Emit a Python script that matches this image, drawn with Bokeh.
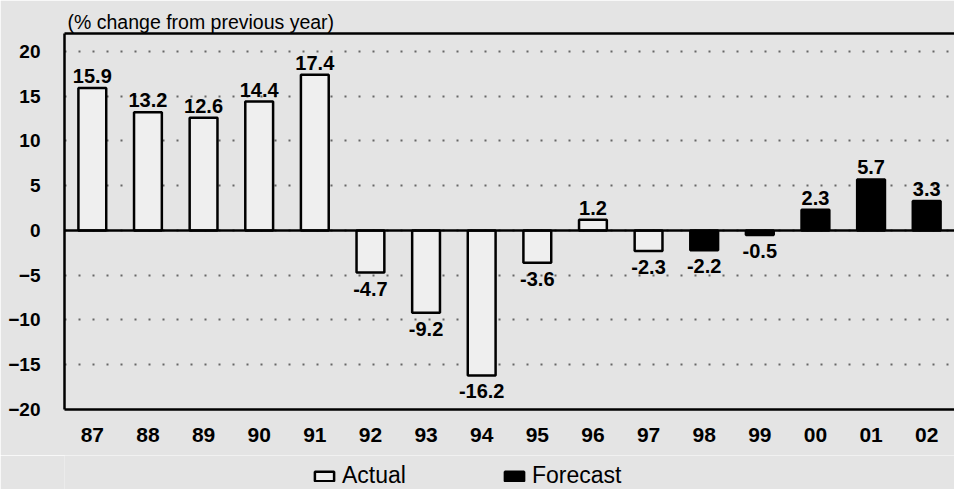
from bokeh.plotting import figure
from bokeh.layouts import column
from bokeh.models import (ColumnDataSource, FactorRange, Range1d, LinearAxis,
                          FixedTicker, Span, LabelSet, Legend, LegendItem)
from bokeh.core.properties import value
from bokeh.embed import file_html
from bokeh.resources import INLINE

# ---- data ----
years = ["87", "88", "89", "90", "91", "92", "93", "94", "95", "96",
         "97", "98", "99", "00", "01", "02"]
actual_years = ["87", "88", "89", "90", "91", "92", "93", "94", "95", "96", "97"]
actual_values = [15.9, 13.2, 12.6, 14.4, 17.4, -4.7, -9.2, -16.2, -3.6, 1.2, -2.3]
forecast_years = ["98", "99", "00", "01", "02"]
forecast_values = [-2.2, -0.5, 2.3, 5.7, 3.3]
y_ticks = [-20, -15, -10, -5, 0, 5, 10, 15, 20]
legend_labels = ["Actual", "Forecast"]

BG = "#e4e4e4"
FONT = "Liberation Sans"
ACT_STYLE = dict(fill_color="#efefef", line_color="black", line_width=2.5)
FC_STYLE = dict(fill_color="black", line_color="black", line_width=2.5)

p = figure(x_range=FactorRange(*years), y_range=Range1d(-20, 22),
           frame_width=890, frame_height=376,
           output_backend="svg", toolbar_location=None,
           min_border_left=64, min_border_right=0, min_border_top=33,
           min_border_bottom=46,
           title="(% change from previous year)")
p.background_fill_color = BG
p.border_fill_color = BG
p.outline_line_color = None

p.title.text_font = FONT
p.title.text_font_size = "19.5px"
p.title.text_font_style = "normal"
p.title.text_color = "black"
p.title.align = "left"
p.title.offset = 3
p.title.standoff = 2

# axes
p.yaxis.ticker = FixedTicker(ticks=y_ticks)
p.yaxis.major_tick_line_color = None
p.yaxis.minor_tick_line_color = None
p.yaxis.axis_line_width = 2.5
p.yaxis.axis_line_color = "black"
p.yaxis.major_label_text_font = FONT
p.yaxis.major_label_text_font_style = "bold"
p.yaxis.major_label_text_font_size = "19px"
p.yaxis.major_label_text_color = "black"
p.yaxis.major_label_standoff = 18

p.xaxis.major_tick_line_color = None
p.xaxis.axis_line_width = 2.5
p.xaxis.axis_line_color = "black"
p.xaxis.major_label_text_font = FONT
p.xaxis.major_label_text_font_style = "bold"
p.xaxis.major_label_text_font_size = "21px"
p.xaxis.major_label_text_color = "black"
p.xaxis.major_label_standoff = 12

top_axis = LinearAxis(ticker=FixedTicker(ticks=[]), axis_line_width=2.5,
                      axis_line_color="black", major_tick_line_color=None,
                      minor_tick_line_color=None, major_label_text_font_size="0px")
p.add_layout(top_axis, "above")

p.xgrid.grid_line_color = None
p.ygrid.ticker = FixedTicker(ticks=y_ticks)
p.ygrid.grid_line_color = "#666666"
p.ygrid.grid_line_width = 1.8
p.ygrid.grid_line_dash = "2 12"

# bars
src_a = ColumnDataSource(dict(x=actual_years, y=actual_values))
src_f = ColumnDataSource(dict(x=forecast_years, y=forecast_values))
p.vbar(x="x", top="y", bottom=0, width=0.5, source=src_a, **ACT_STYLE)
p.vbar(x="x", top="y", bottom=0, width=0.5, source=src_f, **FC_STYLE)

p.add_layout(Span(location=0, dimension="width", line_color="black", line_width=2.5))

# value labels
all_x = actual_years + forecast_years
all_y = actual_values + forecast_values
pos = ColumnDataSource(dict(x=[x for x, v in zip(all_x, all_y) if v >= 0],
                            y=[v for v in all_y if v >= 0],
                            t=[f"{v:.1f}" for v in all_y if v >= 0]))
neg = ColumnDataSource(dict(x=[x for x, v in zip(all_x, all_y) if v < 0],
                            y=[v for v in all_y if v < 0],
                            t=[f"{v:.1f}" for v in all_y if v < 0]))
for src, base, off in ((pos, "bottom", 5), (neg, "top", -9)):
    p.add_layout(LabelSet(x="x", y="y", text="t", source=src, text_align="center",
                          text_baseline=base, y_offset=off, text_font=value(FONT),
                          text_font_style="bold", text_font_size="20px",
                          text_color="black"))

# legend strip below the chart (its frame is aligned with the chart frame);
# hidden copies of the two bar series provide the legend samples.
lf = figure(width=954, height=34, x_range=FactorRange(*years),
            y_range=Range1d(-20, 22),
            output_backend="svg", toolbar_location=None,
            min_border_left=0, min_border_right=0,
            min_border_top=0, min_border_bottom=0)
lf.axis.visible = False
lf.grid.visible = False
lf.outline_line_color = None
lf.background_fill_color = BG
lf.border_fill_color = BG
la = lf.vbar(x="x", top="y", bottom=0, width=0.5, source=src_a, **ACT_STYLE)
lfc = lf.vbar(x="x", top="y", bottom=0, width=0.5, source=src_f, **FC_STYLE)
la.visible = False
lfc.visible = False
legend = Legend(items=[LegendItem(label=legend_labels[0], renderers=[la]),
                       LegendItem(label=legend_labels[1], renderers=[lfc])],
                orientation="horizontal", location=(248, 0),
                background_fill_alpha=0, border_line_color=None,
                glyph_width=24, glyph_height=12, label_standoff=6, spacing=96,
                padding=0, margin=0, click_policy="none",
                inactive_fill_alpha=0,
                label_text_font=FONT, label_text_font_size="23px",
                label_text_color="black")
lf.add_layout(legend)

layout = column(p, lf, spacing=0)
open("out.html", "w").write(file_html(layout, INLINE))
